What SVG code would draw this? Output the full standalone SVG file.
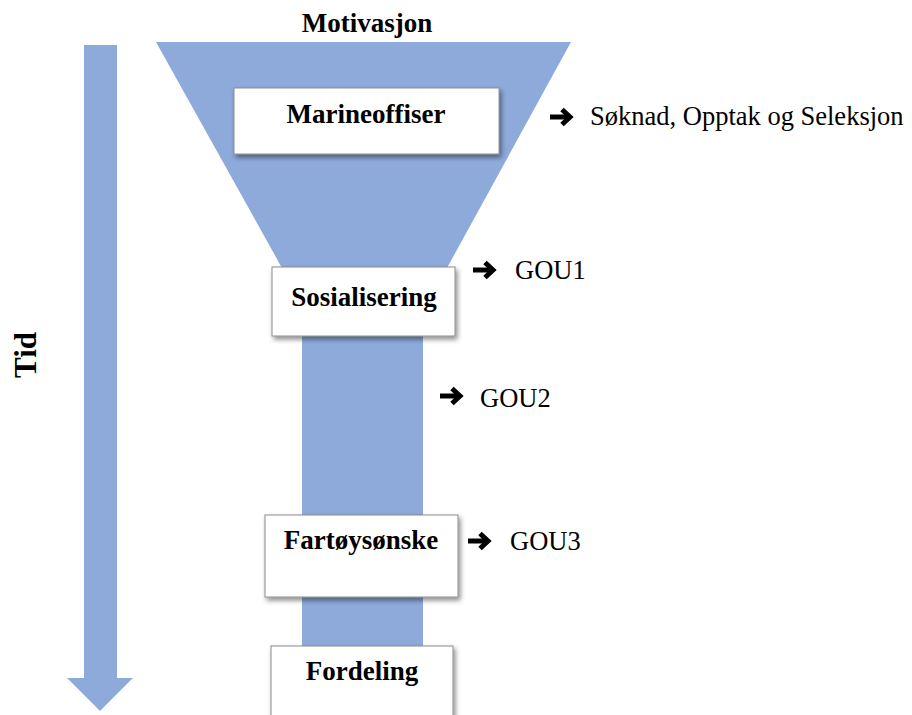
<svg xmlns="http://www.w3.org/2000/svg" width="912" height="715" viewBox="0 0 912 715">
<defs>
<filter id="sh" x="-10%" y="-10%" width="125%" height="140%">
<feDropShadow dx="2" dy="3" stdDeviation="2.5" flood-color="#000" flood-opacity="0.45"/>
</filter>
<g id="arr">
<path d="M0,0 H19" stroke="#000" stroke-width="5" fill="none"/>
<path d="M12,-7.5 L20,0 L12,7.5" stroke="#000" stroke-width="5" fill="none" stroke-linejoin="miter"/>
</g>
</defs>
<style>
.blue{fill:#8EAADB}
.box{fill:#fff;stroke:#8c8c8c;stroke-width:1;filter:url(#sh)}
.lbl{font-family:"Liberation Serif","Times New Roman",serif;font-weight:bold;font-size:27px;fill:#000;text-anchor:middle}
.txt{font-family:"Liberation Serif","Times New Roman",serif;font-size:26.5px;fill:#000}
</style>
<rect width="912" height="715" fill="#fff"/>
<g id="funnel">
<polygon class="blue" points="156,42 571,42 447,268 282,268"/>
<rect class="blue" x="302" y="266" width="121" height="449"/>
</g>
<g id="time-arrow">
<polygon class="blue" points="84,45 117,45 117,678 133,678 100,711 67,678 84,678"/>
<text class="lbl" style="font-size:31px" transform="translate(36,355) rotate(-90)">Tid</text>
</g>
<g id="motivasjon">
<text class="lbl" x="367" y="32">Motivasjon</text>
</g>
<g id="marineoffiser">
<rect class="box" x="234" y="88" width="265" height="66"/>
<text class="lbl" x="366" y="123">Marineoffiser</text>
</g>
<g id="sosialisering">
<rect class="box" x="272" y="267" width="183" height="69"/>
<text class="lbl" x="364" y="306">Sosialisering</text>
</g>
<g id="fartoysonske">
<rect class="box" x="265" y="515" width="193" height="82"/>
<text class="lbl" x="361" y="549">Fartøysønske</text>
</g>
<g id="fordeling">
<rect class="box" x="271" y="646" width="182" height="80"/>
<text class="lbl" x="362" y="680">Fordeling</text>
</g>
<g id="connectors">
<use href="#arr" x="550" y="117"/>
<use href="#arr" x="473" y="270"/>
<use href="#arr" x="440" y="396"/>
<use href="#arr" x="468" y="541"/>
</g>
<g id="labels">
<text class="txt" x="590" y="125">Søknad, Opptak og Seleksjon</text>
<text class="txt" x="515" y="279">GOU1</text>
<text class="txt" x="480" y="407">GOU2</text>
<text class="txt" x="510" y="550">GOU3</text>
</g>
</svg>
